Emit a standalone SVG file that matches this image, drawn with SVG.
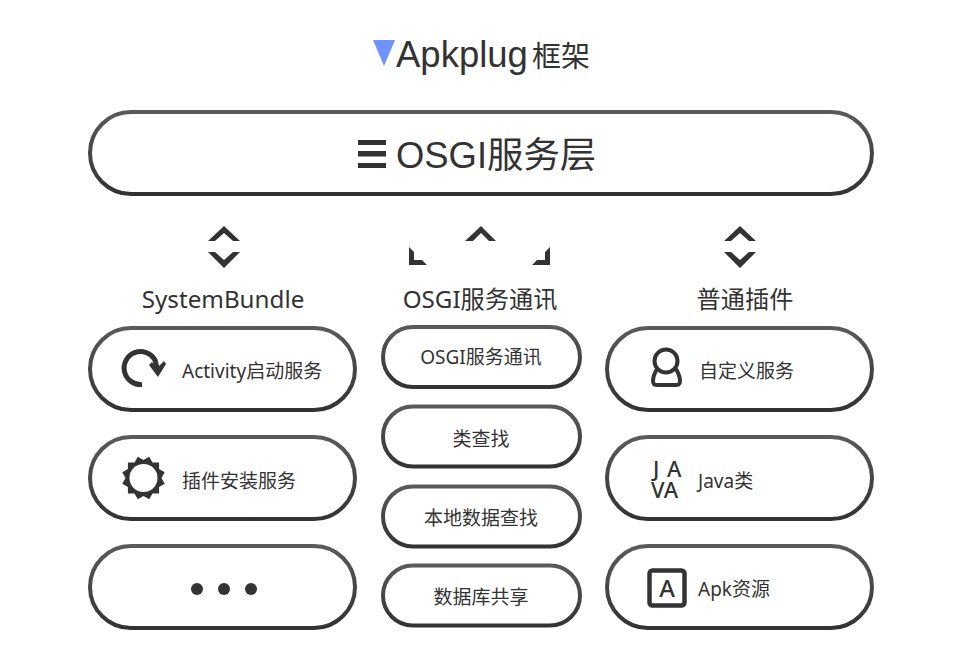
<svg xmlns="http://www.w3.org/2000/svg" width="960" height="667" viewBox="0 0 960 667">
<style>
text{font-family:"Noto Sans","Noto Sans CJK SC",sans-serif;fill:#333;text-anchor:middle}
.h{font-family:"Liberation Sans","Noto Sans CJK SC",sans-serif}
.box{fill:#fff;stroke:url(#edge);stroke-width:4}
.t{font-size:19px;text-anchor:start}
.m{font-size:19px}
.hd{font-size:24.2px}
.ic{fill:none;stroke:#333;stroke-width:4}
.s{fill:#333}
.b{font-weight:500}
</style>
<defs>
<linearGradient id="edge" x1="0" y1="0" x2="0" y2="1"><stop offset="0" stop-color="#5a5a5a"/><stop offset="1" stop-color="#333"/></linearGradient>
</defs>
<rect width="960" height="667" fill="#fff"/>
<g id="title">
<path d="M373 40H395L384 66Z" fill="#6f94ff"/>
<text class="h" x="396" y="67" font-size="36.5" style="text-anchor:start">Apkplug</text>
<text class="h" x="532" y="67" font-size="29" style="text-anchor:start">框架</text>
</g>
<g id="osgi-layer">
<rect class="box" x="90" y="112" width="782" height="82" rx="41"/>
<path class="s" d="M358 140H386V145H358ZM358 151H386V156.500H358ZM358 163H386V168H358Z"/>
<text class="h" x="396" y="168" font-size="36.400" style="text-anchor:start">OSGI服务层</text>
</g>
<g id="connectors">
<path class="s" d="M224 226L240 241H233L224 233L215 241H208Z"/>
<path class="s" d="M224 268L240 252H233L224 260L215 252H208Z"/>
<path class="s" d="M481 226L496 241H489L481 233L473 241H465Z"/>
<path class="s" d="M409 247L414 252V260H422L427 265H409Z"/>
<path class="s" d="M550 247L545 252V260H537L532 265H550Z"/>
<path class="s" d="M740 226L756 241H749L740 233L731 241H724Z"/>
<path class="s" d="M740 268L756 252H749L740 260L731 252H724Z"/>
</g>
<g id="headers">
<text class="hd" x="223" y="308">SystemBundle</text>
<text class="hd" x="480" y="308">OSGI服务通讯</text>
<text class="hd" x="745" y="308">普通插件</text>
</g>
<g id="activity">
<rect class="box" x="90" y="328" width="265" height="82" rx="41"/>
<path d="M142 384.500A16.500 16.500 0 1 1 155 360L157 368" fill="none" stroke="#333" stroke-width="5"/>
<path class="s" d="M149 365L152 362L157 368L164 361L166 364L158 377Z"/>
<text class="t" x="182" y="378">Activity启动服务</text>
</g>
<g id="install">
<rect class="box" x="90" y="437" width="265" height="82" rx="41"/>
<path class="s" transform="translate(143.500 478)" d="M0-18L5.700-21.200L9-15.600L15.600-15.600L15.600-9L21.200-5.700L18 0L21.200 5.700L15.600 9L15.600 15.600L9 15.600L5.700 21.200L0 18L-5.700 21.200L-9 15.600L-15.600 15.600L-15.600 9L-21.200 5.700L-18 0L-21.200-5.700L-15.600-9L-15.600-15.600L-9-15.600L-5.700-21.200Z"/>
<circle cx="143.500" cy="478" r="14" fill="#fff"/>
<text class="t" x="182" y="488">插件安装服务</text>
</g>
<g id="more">
<rect class="box" x="90" y="546" width="265" height="82" rx="41"/>
<circle class="s" cx="197" cy="589" r="6"/><circle class="s" cx="224" cy="589" r="6"/><circle class="s" cx="251" cy="589" r="6"/>
</g>
<g id="osgi-comm">
<rect class="box" x="383" y="327" width="197" height="60" rx="30"/>
<text class="m" x="481" y="364">OSGI服务通讯</text>
</g>
<g id="class-lookup">
<rect class="box" x="383" y="406.500" width="197" height="60" rx="30"/>
<text class="m" x="481" y="446">类查找</text>
</g>
<g id="local-lookup">
<rect class="box" x="383" y="486.500" width="197" height="60" rx="30"/>
<text class="m" x="481" y="525">本地数据查找</text>
</g>
<g id="db-share">
<rect class="box" x="383" y="565.500" width="197" height="60" rx="30"/>
<text class="m" x="481" y="604">数据库共享</text>
</g>
<g id="custom">
<rect class="box" x="607" y="328" width="265" height="82" rx="41"/>
<circle class="ic" cx="666" cy="361" r="11.500"/>
<path class="ic" d="M657 369C654 374 653 378 653 381C653 385 655 385 658 385H675C678 385 680 385 680 381C680 378 679 374 676 369"/>
<text class="t" x="699" y="378">自定义服务</text>
</g>
<g id="java">
<rect class="box" x="607" y="437" width="265" height="82" rx="41"/>
<text class="b" font-size="22" style="text-anchor:start"><tspan x="653" y="477">J</tspan><tspan x="667" y="477">A</tspan><tspan x="651" y="498">VA</tspan></text>
<text class="t" x="698" y="488">Java类</text>
</g>
<g id="apk">
<rect class="box" x="607" y="546" width="265" height="82" rx="41"/>
<rect class="ic" x="649.500" y="570.500" width="35" height="35" rx="3" style="stroke-width:4.500"/>
<text class="b" x="667" y="597" font-size="24">A</text>
<text class="t" x="698" y="596">Apk资源</text>
</g>
</svg>
